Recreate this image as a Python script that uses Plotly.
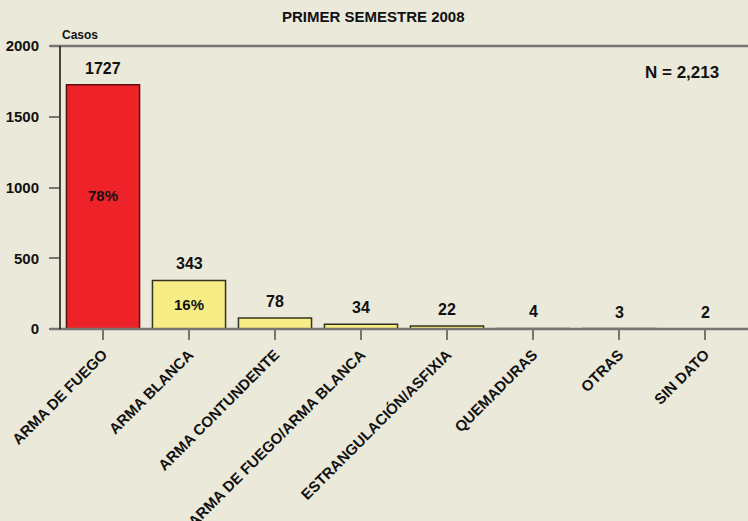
import plotly.graph_objects as go

categories = ["ARMA DE FUEGO", "ARMA BLANCA", "ARMA CONTUNDENTE", "ARMA DE FUEGO/ARMA BLANCA",
              "ESTRANGULACIÓN/ASFIXIA", "QUEMADURAS", "OTRAS", "SIN DATO"]
values = [1727, 343, 78, 34, 22, 4, 3, 2]
percent_labels = ["78%", "16%", "", "", "", "", "", ""]
colors = ["#EE2229", "#F7EC86", "#F7EC86", "#F7EC86", "#F7EC86", "#F7EC86", "#F7EC86", "#F7EC86"]
line_colors = ["#5a1010", "#333322", "#333322", "#333322", "#333322", "#555550", "#555550", "#333333"]
y_ticks = [0, 500, 1000, 1500, 2000]
total_label = "N = 2,213"
title = "PRIMER SEMESTRE 2008"
y_title = "Casos"

BG = "#EBE9D9"
GRAY = "#77776f"
FONT = "Liberation Sans, Arial, sans-serif"

fig = go.Figure()
fig.add_trace(go.Bar(
    x=list(range(len(categories))), y=values, width=0.85,
    marker=dict(color=colors, line=dict(color=line_colors, width=1.5)),
    hoverinfo="skip",
))

ann = []
for i, v in enumerate(values):
    ann.append(dict(x=i, y=v, text=f"<b>{v}</b>", showarrow=False, yanchor="bottom",
                    yshift=6, font=dict(size=16, color="#111", family=FONT)))
    if percent_labels[i]:
        yv = v * 0.545 if i == 0 else v * 0.5
        ann.append(dict(x=i, y=yv, text=f"<b>{percent_labels[i]}</b>", showarrow=False,
                        yanchor="middle", font=dict(size=15, color="#111", family=FONT)))
ann.append(dict(xref="paper", yref="paper", x=(373 - 60) / 688, y=1, yshift=30, yanchor="middle",
                text=f"<b>{title}</b>", showarrow=False, font=dict(size=15, color="#111", family=FONT)))
ann.append(dict(xref="paper", yref="paper", x=0, y=1, yshift=11, xanchor="left", yanchor="middle",
                text=f"<b>{y_title}</b>", showarrow=False, font=dict(size=12, color="#111", family=FONT)))
ann.append(dict(xref="paper", yref="paper", x=(721 - 60) / 688, y=(329 - 72) / 283, xanchor="right",
                yanchor="middle",
                text=f"<b>{total_label}</b>", showarrow=False, font=dict(size=17, color="#111", family=FONT)))

shapes = [
    dict(type="line", xref="paper", yref="paper", x0=-10 / 688, x1=1, y0=1, y1=1,
         line=dict(color=GRAY, width=2.5)),
    dict(type="line", xref="paper", yref="paper", x0=-10 / 688, x1=1, y0=0, y1=0,
         line=dict(color=GRAY, width=2.5), layer="above"),
    dict(type="line", xref="paper", yref="paper", x0=0, x1=0, y0=0, y1=1,
         line=dict(color="#111", width=1.5)),
]

fig.update_layout(
    width=748, height=521,
    margin=dict(l=60, r=0, t=46, b=192),
    paper_bgcolor=BG, plot_bgcolor=BG,
    showlegend=False, bargap=0.15,
    annotations=ann, shapes=shapes,
    font=dict(family=FONT, color="#111"),
)
fig.update_xaxes(
    range=[-0.5, 7.5], tickmode="array", tickvals=list(range(len(categories))),
    ticktext=[f"<b>{c}</b>" for c in categories], tickangle=-45,
    ticks="outside", ticklen=10, tickwidth=2, tickcolor=GRAY,
    tickfont=dict(size=15, family=FONT, color="#111"),
    showgrid=False, zeroline=False, showline=False, automargin=False,
)
fig.update_yaxes(
    range=[0, 2000], tickmode="array", tickvals=y_ticks,
    ticktext=[f"<b>{t}</b>" for t in y_ticks],
    ticks="outside", ticklen=10, tickwidth=2, tickcolor=GRAY,
    tickfont=dict(size=15, family=FONT, color="#111"), ticklabelstandoff=7,
    showgrid=False, zeroline=False, showline=False, automargin=False,
)

fig.write_html("out.html", config={"displayModeBar": False},
               post_script="document.body.style.margin='0';document.body.style.padding='0';")
